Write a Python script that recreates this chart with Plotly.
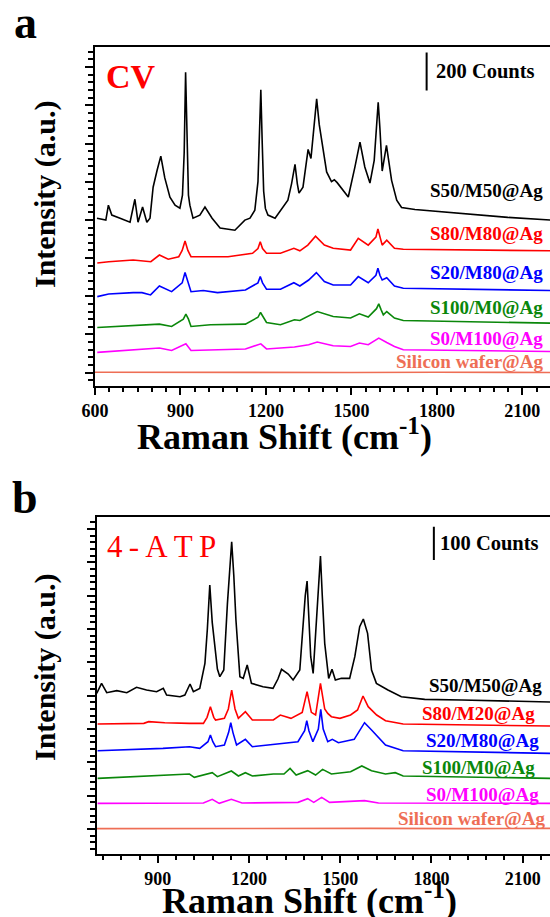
import plotly.graph_objects as go

# ---------------- Panel a: CV (counts, stacked values as plotted) ----------------
cv_s50_x = [607, 638, 647, 659, 688, 723, 740, 751, 767, 782, 793, 804, 818, 831, 845, 863, 881, 898, 907, 913, 918, 923, 928, 933, 944, 968, 986, 1011, 1039, 1091, 1126, 1144, 1161, 1172, 1177, 1182, 1187, 1192, 1198, 1207, 1232, 1260, 1277, 1290, 1302, 1310, 1316, 1330, 1348, 1358, 1368, 1378, 1387, 1395, 1413, 1430, 1440, 1450, 1465, 1489, 1512, 1530, 1547, 1565, 1580, 1588, 1594, 1600, 1608, 1623, 1641, 1659, 1676, 1723, 1817, 1933, 2049, 2200]
cv_s50_y = [809, 799, 877, 825, 809, 788, 908, 788, 867, 788, 809, 971, 1060, 1134, 1020, 919, 877, 861, 930, 1150, 1573, 1150, 930, 877, 809, 825, 867, 809, 757, 746, 799, 809, 851, 1000, 1200, 1481, 1200, 950, 860, 825, 809, 867, 903, 990, 1091, 990, 940, 971, 1169, 1122, 1280, 1434, 1300, 1216, 1051, 1000, 1010, 995, 966, 920, 1075, 1207, 1077, 993, 1112, 1300, 1416, 1280, 1056, 1190, 1007, 903, 865, 854, 842, 825, 813, 799]

cv_s80_x = [608, 648, 734, 796, 826, 857, 894, 906, 916, 926, 937, 1005, 1067, 1153, 1172, 1180, 1188, 1202, 1251, 1298, 1319, 1347, 1374, 1405, 1436, 1497, 1524, 1559, 1586, 1593, 1600, 1608, 1624, 1651, 1682, 2200]
cv_s80_y = [574, 581, 590, 581, 616, 594, 607, 640, 689, 640, 607, 607, 607, 625, 650, 685, 650, 625, 625, 651, 638, 668, 715, 668, 651, 642, 703, 668, 710, 752, 705, 668, 694, 651, 646, 638]

cv_s2080_x = [608, 648, 734, 765, 795, 826, 869, 906, 916, 926, 937, 980, 1030, 1128, 1172, 1180, 1188, 1202, 1251, 1298, 1319, 1350, 1377, 1405, 1436, 1497, 1524, 1559, 1586, 1593, 1600, 1608, 1624, 1651, 1682, 2200]
cv_s2080_y = [398, 412, 419, 419, 407, 454, 424, 470, 524, 470, 424, 430, 419, 433, 470, 503, 470, 437, 437, 471, 454, 485, 524, 477, 459, 459, 503, 471, 510, 547, 510, 485, 497, 454, 442, 430]

cv_s100_x = [608, 734, 826, 869, 910, 919, 928, 937, 1005, 1128, 1172, 1181, 1190, 1202, 1251, 1300, 1319, 1380, 1436, 1497, 1528, 1559, 1588, 1596, 1604, 1612, 1624, 1651, 1682, 2200]
cv_s100_y = [236, 245, 254, 242, 280, 306, 280, 242, 251, 254, 290, 315, 290, 263, 251, 277, 273, 320, 294, 286, 308, 291, 335, 360, 330, 303, 320, 286, 273, 259]

cv_s0_x = [608, 826, 869, 919, 937, 1128, 1182, 1202, 1300, 1350, 1380, 1436, 1497, 1528, 1559, 1596, 1624, 1651, 1682, 2200]
cv_s0_y = [106, 129, 116, 151, 116, 124, 151, 124, 134, 146, 160, 141, 137, 155, 146, 181, 158, 137, 120, 111]

cv_si_x = [600, 900, 1200, 1500, 1800, 2200]
cv_si_y = [2, 1, 2, 1, 2, 1]

# ---------------- Panel b: 4-ATP ----------------
atp_s50_x = [699, 715, 732, 765, 798, 830, 863, 896, 918, 929, 973, 989, 1006, 1017, 1038, 1055, 1063, 1071, 1079, 1088, 1096, 1104, 1117, 1129, 1136, 1143, 1150, 1157, 1170, 1181, 1194, 1208, 1246, 1279, 1295, 1307, 1329, 1345, 1367, 1378, 1385, 1391, 1397, 1403, 1411, 1422, 1429, 1435, 1441, 1449, 1462, 1473, 1484, 1504, 1531, 1548, 1564, 1576, 1590, 1603, 1619, 1657, 1701, 1778, 1900, 2200]
atp_s50_y = [407, 437, 409, 415, 409, 425, 417, 412, 422, 402, 397, 402, 435, 412, 422, 497, 600, 732, 620, 540, 480, 457, 477, 677, 780, 862, 760, 627, 457, 452, 492, 437, 427, 422, 450, 479, 465, 447, 477, 627, 700, 744, 640, 517, 467, 627, 740, 819, 700, 557, 452, 479, 447, 452, 452, 517, 607, 630, 587, 477, 437, 417, 397, 389, 387, 381]

atp_s80_x = [702, 854, 870, 923, 1004, 1050, 1062, 1073, 1084, 1090, 1119, 1132, 1143, 1154, 1165, 1188, 1211, 1280, 1303, 1338, 1375, 1391, 1405, 1419, 1435, 1449, 1459, 1471, 1499, 1534, 1557, 1575, 1592, 1620, 1649, 1707, 2190]
atp_s80_y = [315, 317, 322, 319, 317, 317, 335, 367, 335, 327, 332, 360, 417, 360, 332, 352, 327, 327, 342, 332, 350, 412, 350, 342, 437, 360, 347, 337, 332, 342, 357, 399, 367, 342, 325, 315, 309]

atp_s20_x = [702, 842, 917, 1004, 1038, 1065, 1073, 1081, 1090, 1119, 1133, 1140, 1147, 1159, 1188, 1211, 1303, 1361, 1383, 1390, 1397, 1410, 1428, 1436, 1444, 1459, 1474, 1494, 1546, 1580, 1603, 1626, 1649, 1707, 2190]
atp_s20_y = [235, 239, 242, 247, 242, 262, 282, 262, 247, 252, 290, 319, 290, 252, 269, 247, 257, 262, 295, 325, 295, 262, 300, 359, 300, 262, 269, 259, 269, 319, 297, 275, 252, 235, 227]

atp_s100_x = [702, 1004, 1020, 1079, 1096, 1142, 1165, 1188, 1211, 1280, 1315, 1335, 1355, 1393, 1419, 1442, 1471, 1534, 1571, 1603, 1649, 1681, 1707, 2190]
atp_s100_y = [152, 165, 155, 169, 157, 174, 159, 169, 159, 165, 165, 182, 162, 175, 162, 179, 165, 172, 189, 175, 165, 169, 159, 152]

atp_s0_x = [702, 1050, 1079, 1102, 1142, 1177, 1361, 1393, 1413, 1439, 1465, 1580, 1626, 2190]
atp_s0_y = [77, 78, 89, 77, 89, 78, 80, 91, 80, 95, 80, 85, 78, 77]

atp_si_x = [700, 1000, 1300, 1600, 1900, 2190]
atp_si_y = [1, 2, 1, 2, 1, 2]

series_names_a = ["S50/M50@Ag", "S80/M80@Ag", "S20/M80@Ag", "S100/M0@Ag", "S0/M100@Ag", "Silicon wafer@Ag"]
series_names_b = ["S50/M50@Ag", "S80/M20@Ag", "S20/M80@Ag", "S100/M0@Ag", "S0/M100@Ag", "Silicon wafer@Ag"]
colors = ["#000000", "#FF0000", "#0000FF", "#0A870A", "#FF00FF", "#EE6E55"]

cv_x_range = [600, 2197]
cv_y_range = [-70, 1707]
atp_x_range = [700, 2190]
atp_y_range = [-75, 937]
cv_bar = 200
atp_bar = 100

W, H = 550, 917
def px(x):
    return x / W
def py(y):
    return 1 - y / H

fig = go.Figure()
panel_a = [(cv_s50_x, cv_s50_y), (cv_s80_x, cv_s80_y), (cv_s2080_x, cv_s2080_y),
           (cv_s100_x, cv_s100_y), (cv_s0_x, cv_s0_y), (cv_si_x, cv_si_y)]
panel_b = [(atp_s50_x, atp_s50_y), (atp_s80_x, atp_s80_y), (atp_s20_x, atp_s20_y),
           (atp_s100_x, atp_s100_y), (atp_s0_x, atp_s0_y), (atp_si_x, atp_si_y)]
for (xs, ys), name, c in zip(panel_a, series_names_a, colors):
    fig.add_trace(go.Scatter(x=xs, y=ys, mode="lines", name=name,
                             line=dict(color=c, width=1.6), xaxis="x", yaxis="y", showlegend=False))
for (xs, ys), name, c in zip(panel_b, series_names_b, colors):
    fig.add_trace(go.Scatter(x=xs, y=ys, mode="lines", name=name,
                             line=dict(color=c, width=1.6), xaxis="x2", yaxis="y2", showlegend=False))

FONT = "Liberation Serif, Times New Roman, serif"
tickfont = dict(family=FONT, size=18, color="black", weight="bold")

def xaxis(domain, rng, anchor, minor_dt):
    return dict(domain=domain, range=rng, anchor=anchor, showline=True, linewidth=2.2,
                linecolor="black", mirror=True, ticks="outside", ticklen=7, tickwidth=2,
                tickcolor="black", tick0=0, dtick=300, showgrid=False, zeroline=False,
                tickfont=tickfont, automargin=False,
                minor=dict(dtick=minor_dt, tick0=0, ticks="outside", ticklen=4, tickwidth=2,
                           tickcolor="black", showgrid=False))

def yaxis(domain, rng, anchor, dt):
    return dict(domain=domain, range=rng, anchor=anchor, showline=True, linewidth=2.2,
                linecolor="black", mirror=False, ticks="outside", ticklen=8, tickwidth=2,
                tickcolor="black", tick0=0, dtick=dt, showgrid=False, zeroline=False,
                showticklabels=False, automargin=False,
                minor=dict(dtick=dt / 5, ticks="outside", ticklen=4.5, tickwidth=2,
                           tickcolor="black", showgrid=False))

fig.update_layout(
    width=W, height=H, margin=dict(l=0, r=0, t=0, b=0, pad=0, autoexpand=False),
    paper_bgcolor="white", plot_bgcolor="white", showlegend=False,
    xaxis=xaxis([px(95), 1], cv_x_range, "y", 50),
    yaxis=yaxis([py(386), py(46.7)], cv_y_range, "x", 200),
    xaxis2=xaxis([px(97), 1], atp_x_range, "y2", 60),
    yaxis2=yaxis([py(854), py(516.7)], atp_y_range, "x2", 100),
)

ann = []
def text(x, y, t, size, color="black", xanchor="center", bold=True, textangle=0):
    ann.append(dict(x=px(x), y=py(y), xref="paper", yref="paper", text=t, showarrow=False,
                    xanchor=xanchor, yanchor="middle", textangle=textangle,
                    font=dict(family=FONT, size=size, color=color, weight="bold" if bold else "normal")))

text(25, 22, "a", 46)
text(25, 497, "b", 46)
text(104, 76, "CV", 34, color="#FF0000", xanchor="left")
text(105, 546, "4\u2009-\u2009A\u2009T\u2009P", 31, color="#FF0000", xanchor="left", bold=False)
text(434, 71, "200 Counts", 20.5, xanchor="left")
text(438, 543, "100 Counts", 20.5, xanchor="left")

ya = [190, 233, 272.5, 307.5, 338.5, 361.7]
for name, c, y in zip(series_names_a, colors, ya):
    text(545, y, name, 19, color=c, xanchor="right")
yb = [685, 713, 740.5, 767.5, 794, 818]
xb = [544, 537, 541, 537, 541, 547]
for name, c, y, x in zip(series_names_b, colors, yb, xb):
    text(x, y, name, 19, color=c, xanchor="right")

text(45, 194, "Intensity (a.u.)", 30, textangle=-90)
text(45, 667, "Intensity (a.u.)", 30, textangle=-90)
text(284, 434, "Raman Shift (cm<sup>-1</sup>)", 36)
text(309, 898, "Raman Shift (cm<sup>-1</sup>)", 36)
fig.update_layout(annotations=ann)

# scale bars
fig.add_shape(type="line", xref="x", yref="y", x0=1764, x1=1764, y0=1477, y1=1477 + cv_bar,
              line=dict(color="black", width=2))
fig.add_shape(type="line", xref="x2", yref="y2", x0=1808, x1=1808, y0=807, y1=807 + atp_bar,
              line=dict(color="black", width=2))

fig.write_html("out.html", config={"displayModeBar": False},
               post_script="document.body.style.margin='0px';document.body.style.overflow='hidden';")
